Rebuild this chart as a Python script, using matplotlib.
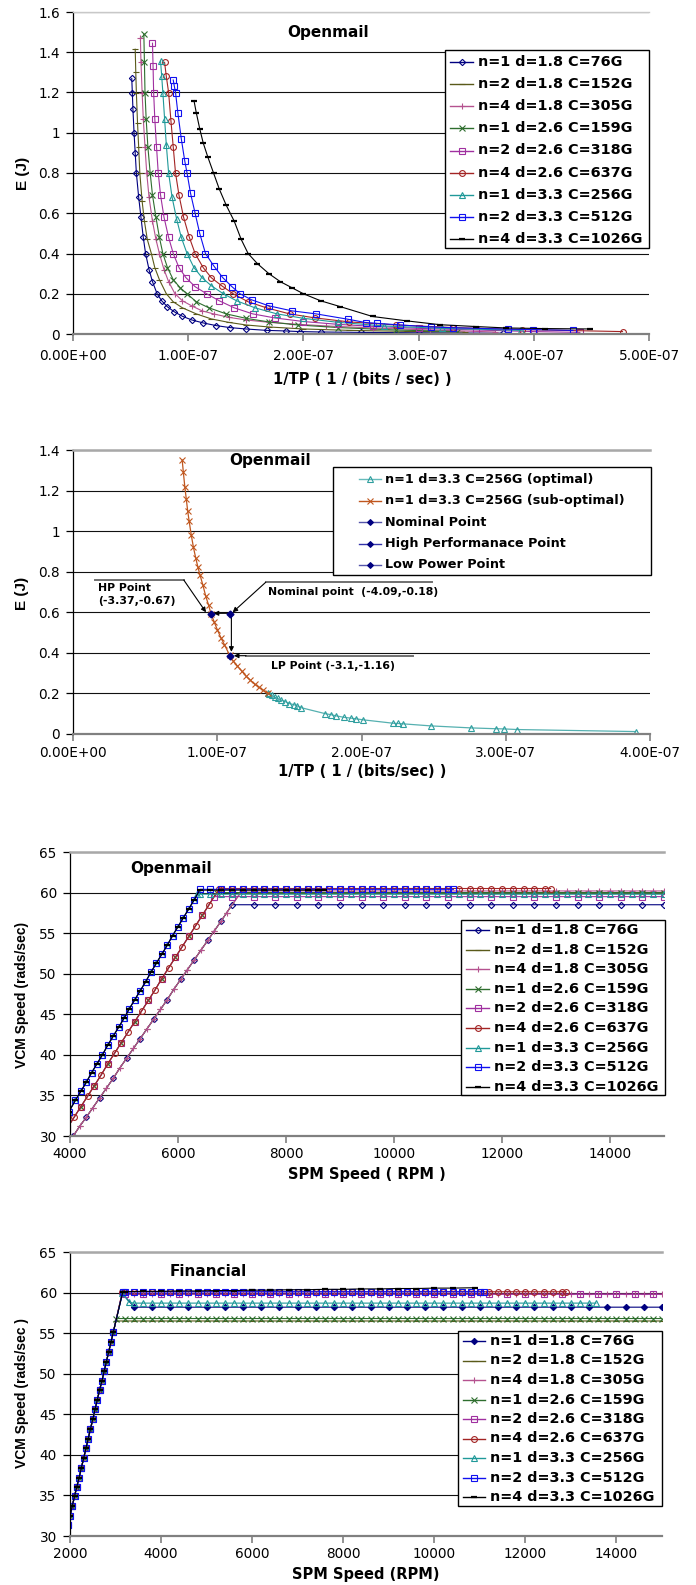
import matplotlib
matplotlib.use('Agg')
import numpy as np
import matplotlib.pyplot as plt
from matplotlib.lines import Line2D
from matplotlib.patches import Rectangle

# ---------------- data ----------------
labels9 = ['n=1 d=1.8 C=76G', 'n=2 d=1.8 C=152G', 'n=4 d=1.8 C=305G',
           'n=1 d=2.6 C=159G', 'n=2 d=2.6 C=318G', 'n=4 d=2.6 C=637G',
           'n=1 d=3.3 C=256G', 'n=2 d=3.3 C=512G', 'n=4 d=3.3 C=1026G']

# panel 1: 1/TP (units of 1e-7) vs E (J)
p1_x = [
    [0.51, 0.515, 0.52, 0.53, 0.54, 0.55, 0.57, 0.59, 0.61, 0.63, 0.66, 0.69, 0.73, 0.77, 0.82,
     0.88, 0.95, 1.03, 1.13, 1.24, 1.36, 1.5, 1.68, 1.85, 1.97, 2.15, 2.5, 3.0, 3.73],
    [0.54, 0.545, 0.55, 0.56, 0.57, 0.58, 0.60, 0.62, 0.645, 0.68, 0.71, 0.75, 0.81, 0.87, 0.95,
     1.07, 1.2, 1.35, 1.5, 1.7, 2.0, 2.4, 2.9, 3.4],
    [0.585, 0.59, 0.60, 0.61, 0.625, 0.64, 0.66, 0.69, 0.72, 0.75, 0.79, 0.83, 0.885, 0.95, 1.03,
     1.12, 1.22, 1.35, 1.5, 1.7, 1.9, 2.2, 2.6, 3.1, 3.66],
    [0.615, 0.62, 0.625, 0.635, 0.65, 0.67, 0.69, 0.72, 0.75, 0.78, 0.82, 0.87, 0.93, 0.99, 1.07,
     1.18, 1.33, 1.5, 1.7, 1.95, 2.3, 2.8, 3.33],
    [0.69, 0.695, 0.70, 0.71, 0.725, 0.74, 0.76, 0.79, 0.83, 0.87, 0.92, 0.98, 1.06, 1.16, 1.27,
     1.4, 1.56, 1.75, 2.0, 2.3, 2.6, 3.0, 3.5, 4.0, 4.4],
    [0.795, 0.81, 0.83, 0.85, 0.87, 0.89, 0.92, 0.96, 1.01, 1.06, 1.13, 1.2, 1.29, 1.39, 1.52,
     1.68, 1.88, 2.1, 2.4, 2.8, 3.3, 3.9, 4.77],
    [0.76, 0.77, 0.78, 0.795, 0.81, 0.83, 0.86, 0.9, 0.94, 0.99, 1.05, 1.12, 1.2, 1.305, 1.42,
     1.58, 1.77, 2.0, 2.3, 2.7, 3.2, 3.89],
    [0.87, 0.88, 0.89, 0.91, 0.94, 0.97, 0.99, 1.02, 1.06, 1.1, 1.15, 1.22, 1.3, 1.38, 1.45,
     1.55, 1.7, 1.9, 2.11, 2.39, 2.54, 2.64, 2.84, 3.11, 3.3, 3.78, 3.99, 4.34],
    [1.05, 1.07, 1.1, 1.13, 1.17, 1.22, 1.27, 1.33, 1.4, 1.46, 1.52, 1.6, 1.7, 1.8, 1.9,
     2.0, 2.15, 2.32, 2.6, 2.9, 3.19, 3.5, 3.76, 4.1, 4.49],
]
p1_e = [
    [1.27, 1.2, 1.12, 1.0, 0.9, 0.8, 0.68, 0.58, 0.48, 0.40, 0.32, 0.26, 0.2, 0.165, 0.135,
     0.11, 0.088, 0.07, 0.055, 0.042, 0.032, 0.025, 0.018, 0.015, 0.012, 0.01, 0.008, 0.006, 0.004],
    [1.415, 1.3, 1.2, 1.05, 0.93, 0.8, 0.66, 0.56, 0.47, 0.4, 0.33, 0.27, 0.2, 0.16, 0.13,
     0.1, 0.075, 0.058, 0.045, 0.035, 0.025, 0.018, 0.013, 0.01],
    [1.47, 1.35, 1.2, 1.07, 0.93, 0.8, 0.68, 0.56, 0.47, 0.4, 0.32, 0.26, 0.2, 0.165, 0.14,
     0.115, 0.1, 0.083, 0.07, 0.058, 0.05, 0.04, 0.03, 0.02, 0.01],
    [1.49, 1.35, 1.2, 1.07, 0.93, 0.8, 0.69, 0.58, 0.48, 0.4, 0.33, 0.27, 0.23, 0.2, 0.16,
     0.13, 0.1, 0.078, 0.06, 0.045, 0.032, 0.02, 0.012],
    [1.445, 1.33, 1.2, 1.07, 0.93, 0.8, 0.69, 0.58, 0.48, 0.4, 0.33, 0.28, 0.235, 0.2, 0.165,
     0.13, 0.1, 0.08, 0.062, 0.048, 0.038, 0.028, 0.02, 0.012, 0.008],
    [1.35, 1.28, 1.2, 1.06, 0.93, 0.8, 0.69, 0.58, 0.48, 0.4, 0.33, 0.28, 0.24, 0.2, 0.16,
     0.13, 0.1, 0.08, 0.06, 0.045, 0.032, 0.022, 0.012],
    [1.357, 1.28, 1.2, 1.07, 0.94, 0.8, 0.68, 0.57, 0.48, 0.4, 0.33, 0.28, 0.24, 0.2, 0.165,
     0.13, 0.1, 0.078, 0.058, 0.04, 0.028, 0.018],
    [1.262, 1.23, 1.2, 1.1, 0.97, 0.86, 0.8, 0.7, 0.6, 0.5, 0.4, 0.34, 0.28, 0.235, 0.2,
     0.17, 0.14, 0.115, 0.1, 0.073, 0.057, 0.053, 0.045, 0.035, 0.031, 0.024, 0.022, 0.018],
    [1.16, 1.1, 1.02, 0.95, 0.88, 0.8, 0.72, 0.64, 0.56, 0.47, 0.4, 0.35, 0.3, 0.26, 0.23,
     0.2, 0.165, 0.136, 0.087, 0.065, 0.046, 0.037, 0.03, 0.027, 0.025],
]

# panel 2: optimal / sub-optimal curve and operating points (x in 1e-7)
p2_labels = ['n=1 d=3.3 C=256G (optimal)', 'n=1 d=3.3 C=256G (sub-optimal)',
             'Nominal Point', 'High Performanace Point', 'Low Power Point']
sub_x = [0.757, 0.765, 0.775, 0.785, 0.795, 0.805, 0.82, 0.835, 0.85, 0.865, 0.88, 0.90, 0.92,
         0.94, 0.958, 0.98, 1.0, 1.025, 1.05, 1.085, 1.11, 1.14, 1.17, 1.2, 1.23, 1.26, 1.29,
         1.32, 1.35]
sub_e = [1.35, 1.29, 1.22, 1.16, 1.10, 1.05, 0.98, 0.92, 0.87, 0.825, 0.785, 0.735, 0.68,
         0.635, 0.59, 0.55, 0.515, 0.475, 0.44, 0.39, 0.36, 0.335, 0.31, 0.285, 0.265, 0.245,
         0.23, 0.215, 0.20]
opt_x = [1.35, 1.36, 1.38, 1.40, 1.42, 1.44, 1.47, 1.50, 1.53, 1.55, 1.58, 1.75, 1.79, 1.82,
         1.88, 1.93, 1.96, 2.01, 2.22, 2.25, 2.29, 2.48, 2.76, 2.93, 2.99, 3.08, 3.90]
opt_e = [0.20, 0.195, 0.19, 0.18, 0.175, 0.168, 0.16, 0.15, 0.145, 0.14, 0.13, 0.10, 0.095,
         0.09, 0.082, 0.078, 0.075, 0.07, 0.053, 0.052, 0.05, 0.04, 0.03, 0.026, 0.025, 0.022,
         0.012]
nominal_pt = (1.085, 0.59)
hp_pt = (0.958, 0.59)
lp_pt = (1.085, 0.385)

# panel 3: Openmail, SPM speed vs VCM speed
om_ramp_rpm = {
    'A': [4060, 4180, 4300, 4425, 4550, 4675, 4800, 4925, 5050, 5175, 5300, 5425, 5550, 5675,
          5800, 5925, 6050, 6175, 6300, 6425, 6550, 6675, 6800, 6900],
    'B': [3950, 4075, 4200, 4325, 4450, 4575, 4700, 4825, 4950, 5075, 5200, 5325, 5450, 5575,
          5700, 5825, 5950, 6075, 6200, 6325, 6450, 6575],
    'C': [3980, 4100, 4200, 4300, 4400, 4500, 4600, 4700, 4800, 4900, 5000, 5100, 5200, 5300,
          5400, 5500, 5600, 5700, 5800, 5900, 6000, 6100, 6200, 6300],
}
om_ramp_vcm = {
    'A': [30.0, 31.2, 32.3, 33.5, 34.7, 35.9, 37.1, 38.4, 39.6, 40.8, 42.0, 43.2, 44.4, 45.6,
          46.8, 48.1, 49.3, 50.5, 51.7, 52.9, 54.1, 55.3, 56.5, 57.5],
    'B': [31.0, 32.3, 33.6, 34.9, 36.2, 37.5, 38.9, 40.2, 41.5, 42.8, 44.1, 45.4, 46.7, 48.0,
          49.4, 50.7, 52.0, 53.3, 54.6, 55.9, 57.2, 58.5],
    'C': [33.0, 34.4, 35.5, 36.6, 37.8, 38.9, 40.0, 41.2, 42.3, 43.4, 44.5, 45.7, 46.8, 47.9,
          49.0, 50.2, 51.3, 52.4, 53.5, 54.7, 55.8, 56.9, 58.0, 59.1],
}
om_group = ['A', 'A', 'A', 'B', 'B', 'B', 'C', 'C', 'C']
om_knee_rpm = [7000, 7150, 7180, 6715, 6670, 6765, 6360, 6410, 6400]
om_level = [58.5, 59.9, 60.2, 60.0, 59.5, 60.5, 59.8, 60.4, 60.3]
om_end_rpm = [15000, 15000, 15000, 15000, 15000, 12900, 15000, 11100, 8700]
om_flat_rpm = [6200, 6400, 6600, 6800, 7000, 7200, 7400, 7600, 7800, 8000, 8200, 8400, 8600,
               8800, 9000, 9200, 9400, 9600, 9800, 10000, 10200, 10400, 10600, 10800, 11000,
               11200, 11400, 11600, 11800, 12000, 12200, 12400, 12600, 12800, 13000, 13200,
               13400, 13600, 13800, 14000, 14200, 14400, 14600, 14800, 15000]

# panel 4: Financial
fin_ramp_rpm = [1950, 2000, 2050, 2100, 2150, 2200, 2250, 2300, 2350, 2400, 2450, 2500, 2550,
                2600, 2650, 2700, 2750, 2800, 2850, 2900, 2950]
fin_ramp_vcm = [31.3, 32.5, 33.7, 34.9, 36.1, 37.2, 38.4, 39.6, 40.8, 42.0, 43.2, 44.4, 45.6,
                46.8, 48.0, 49.1, 50.3, 51.5, 52.7, 53.9, 55.1]
fin_knee_rpm = [[3050, 3150, 3350], [3010], [3140], [3020], [3140], [3150], [3150, 3300],
                [3160], [3160]]
fin_knee_vcm = [[57.5, 59.9, 58.6], [56.5], [59.8], [56.8], [59.8], [60.1], [59.9, 58.8],
                [60.1], [60.1]]
fin_level = [58.2, 56.5, 59.8, 56.8, 59.8, 60.1, 58.7, 60.1, None]
fin_end_rpm = [15000, 15000, 15000, 15000, 15000, 12900, 13550, 11100, 10900]
fin_flat_rpm = [3200, 3400, 3600, 3800, 4000, 4200, 4400, 4600, 4800, 5000, 5200, 5400, 5600,
                5800, 6000, 6200, 6400, 6600, 6800, 7000, 7200, 7400, 7600, 7800, 8000, 8200,
                8400, 8600, 8800, 9000, 9200, 9400, 9600, 9800, 10000, 10200, 10400, 10600,
                10800, 11000, 11200, 11400, 11600, 11800, 12000, 12200, 12400, 12600, 12800,
                13000, 13200, 13400, 13600, 13800, 14000, 14200, 14400, 14600, 14800, 15000]
fin_black_rpm = [3200, 3600, 4000, 4400, 4800, 5200, 5600, 6000, 6400, 6800, 7200, 7600, 8000,
                 8400, 8800, 9200, 9600, 10000, 10400, 10900]
fin_black_vcm = [60.1, 60.15, 60.15, 60.2, 60.2, 60.25, 60.25, 60.3, 60.3, 60.35, 60.35, 60.4,
                 60.4, 60.45, 60.45, 60.5, 60.5, 60.55, 60.55, 60.6]

# ---------------- styles ----------------
styles9 = [
    dict(color='#000080', marker='D', ms=3.2, mfc='none'),
    dict(color='#5A5A1A', marker='_', ms=4),
    dict(color='#B5528F', marker='+', ms=5),
    dict(color='#2E6E2E', marker='x', ms=4),
    dict(color='#A030A0', marker='s', ms=4.2, mfc='none'),
    dict(color='#A32424', marker='o', ms=4.2, mfc='none'),
    dict(color='#209999', marker='^', ms=4.2, mfc='none'),
    dict(color='#1010F0', marker='s', ms=4.2, mfc='none'),
    dict(color='#000000', marker='_', ms=5, mew=1.6),
]

W, H = 696, 1585
fig = plt.figure(figsize=(W / 100, H / 100), dpi=100)


def fx(px):
    return px / W


def fy(py):
    return 1 - py / H


def frame(ax, top_color, top_lw, xpad):
    ax.spines['right'].set_visible(False)
    ax.spines['top'].set_color(top_color)
    ax.spines['top'].set_linewidth(top_lw)
    ax.spines['bottom'].set_color('#808080')
    ax.spines['bottom'].set_linewidth(1.6)
    ax.spines['left'].set_color('black')
    ax.spines['left'].set_linewidth(0.9)
    ax.yaxis.grid(True, color='#111111', lw=0.8)
    ax.set_axisbelow(True)
    ax.tick_params(axis='y', direction='out', length=5, width=0.9, color='black',
                   labelsize=9.8, pad=4.5)
    ax.tick_params(axis='x', direction='out', length=5, width=1.2, color='#808080',
                   labelsize=9.8, pad=xpad)


def line_kw(st):
    kw = dict(color=st['color'], marker=st['marker'], ms=st['ms'], lw=0.8,
              mec=st['color'], mew=st.get('mew', 0.8))
    kw['mfc'] = st.get('mfc', st['color'])
    return kw


def legend_box(box, hx, y0, dy, labels, styles, fs, hlen, gap, lcolors=None):
    x0, yt, x1, yb = box
    fig.add_artist(Rectangle((fx(x0), fy(yb)), (x1 - x0) / W, (yb - yt) / H,
                             transform=fig.transFigure, facecolor='white',
                             edgecolor='black', lw=1, zorder=5))
    for k, (lab, st) in enumerate(zip(labels, styles)):
        y = y0 + k * dy
        lc = st['color'] if lcolors is None else lcolors[k]
        fig.add_artist(Line2D([fx(hx), fx(hx + hlen)], [fy(y), fy(y)],
                              transform=fig.transFigure, color=lc, lw=1, zorder=6))
        kw = line_kw(st)
        kw.pop('lw')
        fig.add_artist(Line2D([fx(hx + hlen / 2)], [fy(y)], transform=fig.transFigure,
                              linestyle='none', zorder=7, **kw))
        fig.text(fx(hx + hlen + gap), fy(y), lab, fontsize=fs, fontweight='bold',
                 ha='left', va='center', zorder=7)


def sci(v, pos=None):
    return f"{v:.2E}"


ylab_font = dict(family=['Liberation Sans', 'DejaVu Sans'], fontweight='bold')

# ---------------- panel 1 ----------------
ax1 = fig.add_axes([fx(73), fy(334), 576 / W, 322 / H])
for xs, es, st in zip(p1_x, p1_e, styles9):
    ax1.plot(np.array(xs) * 1e-7, es, **line_kw(st))
ax1.set_xlim(0, 5e-7)
ax1.set_ylim(0, 1.6)
ax1.set_xticks(np.arange(6) * 1e-7)
ax1.set_yticks(np.arange(9) * 0.2)
ax1.xaxis.set_major_formatter(sci)
ax1.yaxis.set_major_formatter(lambda v, p: f"{v:g}")
frame(ax1, '#C8C8C8', 1.0, 6)
fig.text(fx(328), fy(32), 'Openmail', fontsize=11, fontweight='bold', ha='center', va='center')
fig.text(fx(362), fy(379), '1/TP ( 1 / (bits / sec) )', fontsize=10.5, fontweight='bold',
         ha='center', va='center')
fig.text(fx(23), fy(173), 'E (J)', fontsize=11, rotation=90, ha='center', va='center',
         **ylab_font)
legend_box((445, 50, 649, 248), 450, 61.7, 22.2, labels9, styles9, 10.4, 23, 5)

# ---------------- panel 2 ----------------
ax2 = fig.add_axes([fx(73), fy(734), 577 / W, 284 / H])
opt_c, sub_c, pt_c = '#2E9E9E', '#C0561E', '#000080'
ax2.plot(np.array(opt_x) * 1e-7, opt_e, color='#55B0B0', lw=0.9, marker='^', ms=4,
         mfc='none', mec=opt_c, mew=0.8)
ax2.plot(np.array(sub_x) * 1e-7, sub_e, color=sub_c, lw=0.9, marker='x', ms=4, mew=0.8)
for pt in (nominal_pt, hp_pt, lp_pt):
    ax2.plot(pt[0] * 1e-7, pt[1], marker='D', ms=3.5, color=pt_c, zorder=4)
ax2.set_xlim(0, 4e-7)
ax2.set_ylim(0, 1.4)
ax2.set_xticks(np.arange(5) * 1e-7)
ax2.set_yticks(np.arange(8) * 0.2)
ax2.xaxis.set_major_formatter(sci)
ax2.yaxis.set_major_formatter(lambda v, p: f"{v:g}")
frame(ax2, '#A8A8A8', 1.8, 3.5)

# annotations
arr = dict(arrowstyle='-|>', color='black', lw=0.8, mutation_scale=7, shrinkA=0, shrinkB=0)
lead = dict(color='#707070', lw=1.4, clip_on=False)
ax2.plot([0.153e-7, 0.768e-7], [0.759, 0.759], **lead)
ax2.annotate('', xy=(0.922e-7, 0.60), xytext=(0.768e-7, 0.759), arrowprops=arr)
ax2.text(0.174e-7, 0.722, 'HP Point', fontsize=7.8, fontweight='bold', ha='left', va='center')
ax2.text(0.174e-7, 0.655, '(-3.37,-0.67)', fontsize=7.8, fontweight='bold', ha='left',
         va='center')
ax2.plot([1.336e-7, 2.487e-7], [0.748, 0.748], **lead)
ax2.annotate('', xy=(1.107e-7, 0.60), xytext=(1.336e-7, 0.748), arrowprops=arr)
ax2.text(1.354e-7, 0.698, 'Nominal point  (-4.09,-0.18)', fontsize=7.8, fontweight='bold',
         ha='left', va='center')
ax2.annotate('', xy=(0.975e-7, 0.595), xytext=(1.08e-7, 0.595), arrowprops=arr)
ax2.annotate('', xy=(1.098e-7, 0.405), xytext=(1.098e-7, 0.585), arrowprops=arr)
ax2.plot([1.2e-7, 2.36e-7], [0.386, 0.386], **lead)
ax2.annotate('', xy=(1.115e-7, 0.386), xytext=(1.2e-7, 0.386), arrowprops=arr)
ax2.text(1.37e-7, 0.335, 'LP Point (-3.1,-1.16)', fontsize=7.8, fontweight='bold',
         ha='left', va='center')

fig.text(fx(270), fy(460), 'Openmail', fontsize=11, fontweight='bold', ha='center', va='center')
fig.text(fx(362), fy(772), '1/TP ( 1 / (bits/sec) )', fontsize=10.5, fontweight='bold',
         ha='center', va='center')
fig.text(fx(22), fy(593), 'E (J)', fontsize=11, rotation=90, ha='center', va='center',
         **ylab_font)
p2_styles = [dict(color=opt_c, marker='^', ms=4, mfc='none'),
             dict(color=sub_c, marker='x', ms=4),
             dict(color=pt_c, marker='D', ms=3),
             dict(color=pt_c, marker='D', ms=3),
             dict(color=pt_c, marker='D', ms=3)]
legend_box((333, 467, 651, 575), 359, 479, 21.5, p2_labels, p2_styles, 9.2, 22, 4,
           lcolors=['#66BBBB', sub_c, '#5555AA', '#3333AA', '#5555AA'])

# ---------------- panel 3 ----------------
ax3 = fig.add_axes([fx(70), fy(1136), 594 / W, 284 / H])
om_every = [2, 1, 1, 2, 2, 1, 1, 1, 1]
for i, st in enumerate(styles9):
    g = om_group[i]
    xs = list(om_ramp_rpm[g]) + [om_knee_rpm[i]]
    ys = list(om_ramp_vcm[g]) + [om_level[i]]
    for r in om_flat_rpm:
        if om_knee_rpm[i] < r <= om_end_rpm[i]:
            xs.append(r)
            ys.append(om_level[i])
    if xs[-1] < om_end_rpm[i]:
        xs.append(om_end_rpm[i])
        ys.append(om_level[i])
    ax3.plot(xs, ys, markevery=om_every[i], **line_kw(st))
ax3.set_xlim(4000, 15000)
ax3.set_ylim(30, 65)
ax3.set_xticks(range(4000, 15000, 2000))
ax3.set_yticks(range(30, 66, 5))
frame(ax3, '#A8A8A8', 1.8, 3)
fig.text(fx(171), fy(869), 'Openmail', fontsize=11, fontweight='bold', ha='center', va='center')
fig.text(fx(367), fy(1175), 'SPM Speed ( RPM )', fontsize=10.5, fontweight='bold',
         ha='center', va='center')
fig.text(fx(22), fy(995), 'VCM Speed (rads/sec)', fontsize=10, rotation=90, ha='center',
         va='center', **ylab_font)
legend_box((461, 920, 665, 1095), 466, 930, 19.6, labels9, styles9, 10.4, 23, 5)

# ---------------- panel 4 ----------------
ax4 = fig.add_axes([fx(70), fy(1536), 592 / W, 284 / H])
fin_styles = [dict(s) for s in styles9]
fin_styles[0]['mfc'] = '#000080'
fin_every = [2, 1, 1, 1, 2, 1, 1, 1, 1]
for i, st in enumerate(fin_styles):
    xs = list(fin_ramp_rpm) + list(fin_knee_rpm[i])
    ys = list(fin_ramp_vcm) + list(fin_knee_vcm[i])
    if fin_level[i] is None:
        xs += fin_black_rpm
        ys += fin_black_vcm
    else:
        for r in fin_flat_rpm:
            if xs[-1] < r <= fin_end_rpm[i]:
                xs.append(r)
                ys.append(fin_level[i])
        if xs[-1] < fin_end_rpm[i]:
            xs.append(fin_end_rpm[i])
            ys.append(fin_level[i])
    ax4.plot(xs, ys, markevery=fin_every[i], **line_kw(st))
ax4.set_xlim(2000, 15000)
ax4.set_ylim(30, 65)
ax4.set_xticks(range(2000, 15000, 2000))
ax4.set_yticks(range(30, 66, 5))
frame(ax4, '#A8A8A8', 1.8, 3)
fig.text(fx(208), fy(1272), 'Financial', fontsize=11, fontweight='bold', ha='center',
         va='center')
fig.text(fx(366), fy(1575), 'SPM Speed (RPM)', fontsize=10.5, fontweight='bold',
         ha='center', va='center')
fig.text(fx(22), fy(1393), 'VCM Speed (rads/sec )', fontsize=10, rotation=90, ha='center',
         va='center', **ylab_font)
legend_box((458, 1331, 662, 1506), 463, 1341, 19.5, labels9, fin_styles, 10.4, 22, 5)

fig.savefig('out.png', dpi=100)
